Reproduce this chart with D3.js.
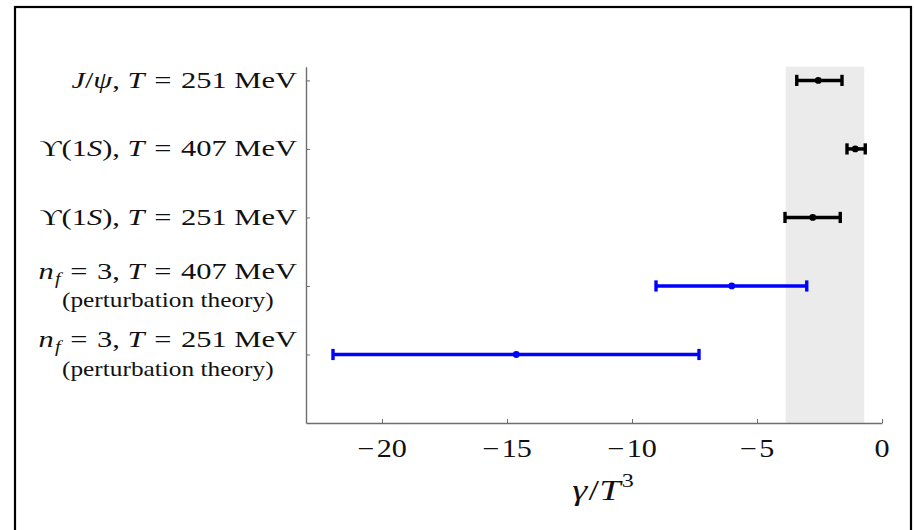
<!DOCTYPE html>
<html>
<head>
<meta charset="utf-8">
<script src="https://cdn.jsdelivr.net/npm/d3@7"></script>
<style>
	body { margin: 0; background: #fff; }
	svg { display: block; }
	text { font-family: "Liberation Serif", "Times New Roman", serif; fill: #111; }
</style>
</head>
<body>
<div id="chart"></div>
<script>
// ---------------------------------------------------------------
// Data
// ---------------------------------------------------------------

// rows, top to bottom; "_f" marks a subscript
const categories = [
	"J/ψ, T = 251 MeV",
	"ϒ(1S), T = 407 MeV",
	"ϒ(1S), T = 251 MeV",
	"n_f = 3, T = 407 MeV",
	"n_f = 3, T = 251 MeV",
];
const subLabels = ["", "", "", "(perturbation theory)", "(perturbation theory)"];
const rowPos = [5, 4, 3, 2, 1];

const centers = [-2.55, -1.07, -2.77, -6.01, -14.63];
const lows = [-3.41, -1.4, -3.88, -9.04, -21.96];
const highs = [-1.6, -0.67, -1.67, -3.01, -7.32];
const groups = ["lattice", "lattice", "lattice", "pert", "pert"];

const bandRange = [-3.85, -0.71];
const xTicks = [-20, -15, -10, -5, 0];
const xDomain = [-23.04, 0];
const yDomain = [0, 5.2];

const colorOf = { lattice: "#000000", pert: "#0000ff" };

// ---------------------------------------------------------------
// Layout
// ---------------------------------------------------------------

const W = 914;
const H = 530;
const plot = { left: 306, right: 882, top: 66.7, bottom: 423 };
// the reference type is drawn a little wide, so text gets a horizontal stretch
const stretch = 1.27;

const svg = d3
	.select("#chart")
	.append("svg")
	.attr("width", W)
	.attr("height", H);

// outer frame (bottom edge runs off the picture)
svg.append("rect")
	.attr("x", 15)
	.attr("y", 7)
	.attr("width", 896)
	.attr("height", 560)
	.attr("fill", "none")
	.attr("stroke", "#000")
	.attr("stroke-width", 2.2);

const x = d3.scaleLinear().domain(xDomain).range([plot.left, plot.right]);
const y = d3.scaleLinear().domain(yDomain).range([plot.bottom, plot.top]);

// shaded band
svg.append("rect")
	.attr("x", x(bandRange[0]))
	.attr("y", y(yDomain[1]))
	.attr("width", x(bandRange[1]) - x(bandRange[0]))
	.attr("height", y(yDomain[0]) - y(yDomain[1]))
	.attr("fill", "#ebebeb");

// axes, ticks drawn inward
const axisColor = "#6e6e6e";

svg.append("g")
	.attr("transform", `translate(0,${plot.bottom})`)
	.call(d3.axisTop(x).tickValues(xTicks).tickSize(4).tickSizeOuter(0).tickFormat(""))
	.call((g) => {
		g.select(".domain").attr("stroke", axisColor).attr("stroke-width", 1.4);
		g.selectAll("line").attr("stroke", axisColor).attr("stroke-width", 1);
	});

svg.append("g")
	.attr("transform", `translate(${plot.left},0)`)
	.call(d3.axisRight(y).tickValues(rowPos).tickSize(4).tickSizeOuter(0).tickFormat(""))
	.call((g) => {
		g.select(".domain").attr("stroke", axisColor).attr("stroke-width", 1.4);
		g.selectAll("line").attr("stroke", axisColor).attr("stroke-width", 1);
	});

// x tick labels
const tickText = svg.append("g")
	.selectAll("text")
	.data(xTicks)
	.join("text")
	.attr("transform", (d) => `translate(${x(d)},457) scale(${stretch * 0.95},1)`)
	.attr("text-anchor", "middle")
	.style("font-size", "25px");
tickText.filter((d) => d < 0).append("tspan").text("\u2212");
tickText.append("tspan")
	.attr("dx", (d) => (d < 0 ? 2 : 0))
	.text((d) => Math.abs(d));

// x axis title: γ/T³
const title = svg.append("text")
	.attr("transform", `translate(${(plot.left + plot.right) / 2 + 9},500) scale(${stretch},1)`)
	.attr("text-anchor", "middle")
	.style("font-size", "30px");
title.append("tspan").style("font-style", "italic").text("γ");
title.append("tspan").attr("dx", 1).text("/");
title.append("tspan").style("font-style", "italic").text("T");
title.append("tspan").attr("dy", -13).attr("dx", 1).style("font-size", "19px").text("3");

// ---------------------------------------------------------------
// Row labels (simple math markup: italics for symbols, _x subscript)
// ---------------------------------------------------------------

const italicChars = "JTSnψ";

function writeMath(textSel, str) {
	let shift = 0;
	let pad = 0;
	for (let k = 0; k < str.length; k++) {
		let ch = str[k];
		if (ch === "_") {
			ch = str[++k];
			textSel.append("tspan")
				.attr("dy", 5)
				.attr("dx", 1)
				.style("font-size", "16px")
				.style("font-style", "italic")
				.text(ch);
			shift = -5;
			continue;
		}
		const ts = textSel.append("tspan").text(ch === " " ? "\u00a0" : ch);
		if (shift) {
			ts.attr("dy", shift);
			shift = 0;
		}
		// relation spacing around "="
		if (ch === "=") {
			ts.attr("dx", 1.6);
			pad = 1.6;
		} else if (pad) {
			ts.attr("dx", pad);
			pad = 0;
		}
		if (italicChars.includes(ch)) ts.style("font-style", "italic");
	}
}

const labelRight = 297;

categories.forEach((label, i) => {
	const yc = y(rowPos[i]);
	const twoLine = subLabels[i] !== "";
	const base = twoLine ? yc - 7 : yc + 7.5;
	const main = svg.append("text")
		.attr("transform", `translate(${labelRight},${base}) scale(${stretch},1)`)
		.attr("text-anchor", "end")
		.style("font-size", "24px");
	writeMath(main, label);

	if (twoLine) {
		const bb = main.node().getBBox();
		const cx = labelRight + stretch * (bb.x + bb.width / 2);
		svg.append("text")
			.attr("transform", `translate(${cx},${yc + 21.5}) scale(${stretch * 0.95},1)`)
			.attr("text-anchor", "middle")
			.style("font-size", "21px")
			.text(subLabels[i]);
	}
});

// ---------------------------------------------------------------
// Error bars
// ---------------------------------------------------------------

const capHalf = 5.6;
const bars = svg.append("g")
	.selectAll("g")
	.data(categories.map((c, i) => i))
	.join("g")
	.attr("stroke", (i) => colorOf[groups[i]])
	.attr("fill", (i) => colorOf[groups[i]]);

bars.append("line")
	.attr("x1", (i) => x(lows[i]))
	.attr("x2", (i) => x(highs[i]))
	.attr("y1", (i) => y(rowPos[i]))
	.attr("y2", (i) => y(rowPos[i]))
	.attr("stroke-width", 3.5);

bars.append("line")
	.attr("x1", (i) => x(lows[i]))
	.attr("x2", (i) => x(lows[i]))
	.attr("y1", (i) => y(rowPos[i]) - capHalf)
	.attr("y2", (i) => y(rowPos[i]) + capHalf)
	.attr("stroke-width", 3.4);

bars.append("line")
	.attr("x1", (i) => x(highs[i]))
	.attr("x2", (i) => x(highs[i]))
	.attr("y1", (i) => y(rowPos[i]) - capHalf)
	.attr("y2", (i) => y(rowPos[i]) + capHalf)
	.attr("stroke-width", 3.4);

bars.append("circle")
	.attr("cx", (i) => x(centers[i]))
	.attr("cy", (i) => y(rowPos[i]))
	.attr("r", 3.4)
	.attr("stroke", "none");
</script>
</body>
</html>
